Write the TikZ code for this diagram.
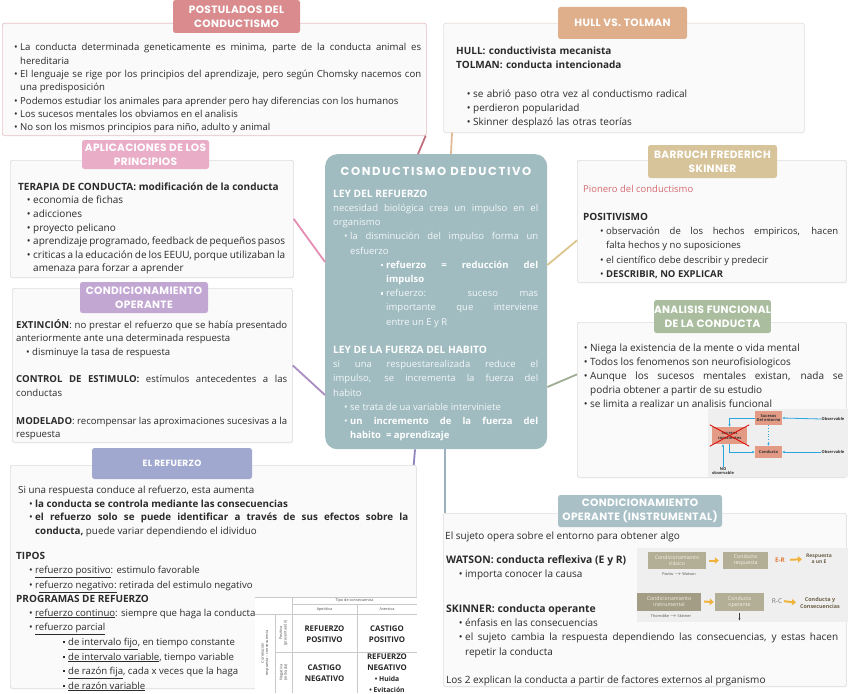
\documentclass[tikz,border=0pt]{standalone}
\usepackage{fontspec}
\setmainfont{Open Sans}
\newfontfamily\titlef{Poppins}[LetterSpace=3]
\newfontfamily\bigtitlef{Poppins}[LetterSpace=14]
\usetikzlibrary{shadows,arrows.meta}
\definecolor{textc}{HTML}{2B2B2B}
\definecolor{panelfill}{HTML}{FAFAFA}
\definecolor{panelline}{HTML}{DDDDDD}
\definecolor{postline}{HTML}{E5C3C5}
\definecolor{hullline}{HTML}{E9E1DA}
\definecolor{tpost}{HTML}{D98B8D}
\definecolor{thull}{HTML}{DFAE8B}
\definecolor{taplic}{HTML}{EAADC7}
\definecolor{tcondop}{HTML}{C3A7D3}
\definecolor{tbarr}{HTML}{D8C49B}
\definecolor{tanal}{HTML}{AABE9F}
\definecolor{trefz}{HTML}{A1A8CF}
\definecolor{tinst}{HTML}{A8C0C6}
\definecolor{central}{HTML}{A0BCC1}
\definecolor{ctext}{HTML}{F3F7F8}
\definecolor{cpost}{HTML}{C0707E}
\definecolor{chull}{HTML}{E2B995}
\definecolor{caplic}{HTML}{E58DB3}
\definecolor{ccondop}{HTML}{A98DC2}
\definecolor{cbarr}{HTML}{DCC48E}
\definecolor{canal}{HTML}{9FAE93}
\definecolor{crefz}{HTML}{8C86BA}
\definecolor{cinst}{HTML}{9AB1C0}
\definecolor{pion}{HTML}{D46B72}
\definecolor{diagbg}{HTML}{EFEFEF}
\definecolor{salmon}{HTML}{E39B86}
\definecolor{arrowblue}{HTML}{2AA5DE}
\definecolor{khaki}{HTML}{B3AE96}
\definecolor{khakid}{HTML}{A39D85}
\definecolor{cream}{HTML}{F7F3E6}
\definecolor{yarr}{HTML}{F0B43C}
\definecolor{orng}{HTML}{E07B39}
\definecolor{dbrown}{HTML}{6E6048}
\definecolor{gridc}{HTML}{C9C9C9}
\newcommand\fsz[2]{\fontsize{#1}{#2}\selectfont}
\newcommand\chead{\bfseries\fsz{10.2}{14.2}\color{white}}
\newcommand\li[1]{\par\noindent\hangindent=#1\relax\hangafter=1\makebox[#1][r]{\strut\textbullet\hspace{2.5pt}}\ignorespaces}
\newcommand\lii[1]{\par\noindent\hangindent=#1\relax\hangafter=1\makebox[#1][r]{\strut\raisebox{1.8pt}{\rule{2.6pt}{2.6pt}}\hspace{3pt}}\ignorespaces}
\hyphenpenalty=10000
\exhyphenpenalty=10000
\tolerance=9999
\emergencystretch=20pt
\begin{document}
\begin{tikzpicture}[x=1pt,y=-1pt,
  panel/.style={draw=#1, fill=panelfill, line width=0.7pt, rounded corners=2pt, inner sep=0pt, anchor=north west,
    drop shadow={opacity=0.10, shadow xshift=0.6pt, shadow yshift=-0.9pt}},
  tab/.style={fill=#1, rounded corners=2.5pt, text=white, font=\titlef\bfseries\fsz{10.6}{14}, align=center, inner sep=0pt},
  conn/.style={line width=1.8pt, draw=#1},
  txt/.style={anchor=north west, inner sep=0pt, align=justify, text=textc},
  ctxt/.style={anchor=north west, inner sep=0pt, align=justify, text=ctext},
  dbox/.style={fill=salmon, inner sep=0pt, align=center, font=\bfseries\fsz{4}{4.6}, text=black!80},
  dlab/.style={inner sep=0pt, align=center, font=\bfseries\fsz{4}{4.6}, text=black!80},
  barrow/.style={draw=arrowblue, line width=0.8pt, -{Latex[length=2.5pt,width=2.5pt]}},
  kbox/.style={fill=khaki, inner sep=0pt, align=center, font=\fsz{5.2}{6.2}, text=cream},
  tiny/.style={inner sep=0pt, align=center, font=\fsz{3.8}{4.4}, text=black!70},
  yarrow/.style={draw=yarr, line width=2pt, -{Triangle[length=4pt,width=6.5pt]}},
  cell/.style={inner sep=0pt, align=center, font=\bfseries\fsz{7.8}{11.5}, text=black!85},
  gtxt/.style={inner sep=0pt, align=center, font=\fsz{3.8}{4.4}, text=black!70}
]
\useasboundingbox (0,0) rectangle (848,693);
\fill[white] (0,0) rectangle (848,693);

% ---------- panels ----------
\node[panel=postline, minimum width=424, minimum height=112] (post) at (2,23) {};
\node[panel=hullline, minimum width=361, minimum height=109] (hull) at (443,23) {};
\node[panel=panelline, minimum width=283, minimum height=117] (aplic) at (10,160) {};
\node[panel=panelline, minimum width=280, minimum height=154] (condop) at (12,288) {};
\node[panel=panelline, minimum width=269, minimum height=122] (barr) at (577,160) {};
\node[panel=panelline, minimum width=269, minimum height=155] (anal) at (577,322) {};
\node[panel=panelline, minimum width=406, minimum height=223] (refz) at (10,465) {};
\node[panel=panelline, minimum width=403, minimum height=173] (inst) at (443,513) {};
\node[fill=central, rounded corners=12pt, minimum width=222, minimum height=295, inner sep=0pt, anchor=north west] (cen) at (325,154) {};

% ---------- connectors ----------
\draw[conn=cpost] ([xshift=-1pt]post.south east) -- ([xshift=93pt]cen.north west);
\draw[conn=chull] ([xshift=9pt]hull.south west) -- ([xshift=126pt]cen.north west);
\draw[conn=caplic] (aplic.east) -- ([yshift=-108pt]cen.north west);
\draw[conn=ccondop] (condop.east) -- ([yshift=-241pt]cen.north west);
\draw[conn=cbarr] ([yshift=-111pt]cen.north east) -- ([yshift=-19pt]barr.west);
\draw[conn=canal] ([yshift=-233pt]cen.north east) -- ([yshift=25.5pt]anal.west);
\draw[conn=crefz] ([xshift=90pt]cen.south west) -- ([xshift=-3pt]refz.north east);
\draw[conn=cinst] ([xshift=120pt]cen.south west) -- ([xshift=2pt]inst.north west);

% ---------- tabs ----------
\node[tab=tpost, minimum width=127, minimum height=33] (tpostn) at (236.5,16.5) {POSTULADOS DEL\\CONDUCTISMO};
\node[tab=thull, minimum width=129, minimum height=32] (thulln) at (622.5,23) {HULL VS. TOLMAN};
\node[tab=taplic, minimum width=127, minimum height=29] (taplicn) at (145.5,154.5) {APLICACIONES DE LOS\\PRINCIPIOS};
\node[tab=tcondop, minimum width=128, minimum height=31] (tcondopn) at (144,297.5) {CONDICIONAMIENTO\\OPERANTE};
\node[tab=tbarr, minimum width=129, minimum height=33] (tbarrn) at (712.5,161.5) {BARRUCH FREDERICH\\SKINNER};
\node[tab=tanal, minimum width=115, minimum height=33] (tanaln) at (712.5,316.5) {ANALISIS FUNCIONAL\\DE LA CONDUCTA};
\node[tab=trefz, minimum width=160, minimum height=31, font=\titlef\bfseries\fsz{9}{11}] (trefzn) at (172,463.5) {EL REFUERZO};
\node[tab=tinst, minimum width=164, minimum height=32] (tinstn) at (640,511) {CONDICIONAMIENTO\\OPERANTE (INSTRUMENTAL)};

% ---------- postulados ----------
\node[txt, text width=408pt, font=\fsz{9.6}{13.33}] (postT) at (13,37.2) {%
\li{7pt}La conducta determinada geneticamente es minima, parte de la conducta animal es\linebreak hereditaria
\li{7pt}El lenguaje se rige por los principios del aprendizaje, pero según Chomsky nacemos con\linebreak una predisposición
\li{7pt}Podemos estudiar los animales para aprender pero hay diferencias con los humanos
\li{7pt}Los sucesos mentales los obviamos en el analisis
\li{7pt}No son los mismos principios para niño, adulto y animal\par};

% ---------- hull ----------
\node[txt, align=left, text width=330pt, font=\fsz{10}{14.3}] (hullT) at (456,44) {%
\strut\textbf{HULL: conductivista mecanista}\par
\textbf{TOLMAN: conducta intencionada}\par\vspace{14.3pt}
\li{17pt}se abrió paso otra vez al conductismo radical
\li{17pt}perdieron popularidad
\li{17pt}Skinner desplazó las otras teorías\par};

% ---------- aplicaciones ----------
\node[txt, text width=267pt, font=\fsz{10}{13.6}] (aplicT) at (18,180.5) {%
\strut\textbf{TERAPIA DE CONDUCTA: modificación de la conducta}
\li{15pt}economia de fichas
\li{15pt}adicciones
\li{15pt}proyecto pelicano
\li{15pt}aprendizaje programado, feedback de pequeños pasos
\li{15pt}criticas a la educación de los EEUU, porque utilizaban la\linebreak amenaza para forzar a aprender\par};

% ---------- condicionamiento operante ----------
\node[txt, text width=271pt, font=\fsz{9.6}{13.7}] (condopT) at (16,318.4) {%
\strut\textbf{EXTINCIÓN}: no prestar el refuerzo que se había presentado\linebreak anteriormente ante una determinada respuesta
\li{16pt}disminuye la tasa de respuesta\par\vspace{13.7pt}
\noindent\textbf{CONTROL DE ESTIMULO:} estímulos antecedentes a las\linebreak conductas\par\vspace{13.7pt}
\noindent\textbf{MODELADO}: recompensar las aproximaciones sucesivas a la\linebreak respuesta\par};

% ---------- central ----------
\node[font=\bigtitlef\bfseries\fsz{11.6}{13}, text=white, anchor=base, inner sep=0pt] (cenT) at (436,175) {CONDUCTISMO DEDUCTIVO};
\node[ctxt, text width=205pt, font=\fsz{9.5}{14.2}] (cenB) at (333,187.1) {%
\strut{\chead LEY DEL REFUERZO}\par
\noindent necesidad biológica crea un impulso en el\linebreak organismo
\li{17pt}la disminución del impulso forma un\linebreak esfuerzo
\lii{53pt}\textbf{\color{white}refuerzo = reducción del\linebreak impulso}
\lii{53pt}refuerzo: suceso mas\linebreak importante que interviene\linebreak entre un E y R\par\vspace{14.2pt}
\noindent{\chead LEY DE LA FUERZA DEL HABITO}\par
\noindent si una respuestarealizada reduce el\linebreak impulso, se incrementa la fuerza del\linebreak habito
\li{17pt}se trata de ua variable interviniete
\li{17pt}\textbf{\color{white}un incremento de la fuerza del\linebreak habito \ = aprendizaje}\par};

% ---------- barruch ----------
\node[txt, text width=255pt, font=\fsz{9.5}{14.2}] (barrT) at (583,182) {%
\strut\textcolor{pion}{Pionero del conductismo}\par\vspace{14.2pt}
\noindent\textbf{\fsz{10}{14.2}POSITIVISMO}
\li{23pt}observación de los hechos empiricos, hacen\linebreak falta hechos y no suposiciones
\li{23pt}el científico debe describir y predecir
\li{23pt}\textbf{DESCRIBIR, NO EXPLICAR}\par};

% ---------- analisis ----------
\node[txt, text width=260pt, font=\fsz{10}{14.1}] (analT) at (583,337.1) {%
\li{7pt}Niega la existencia de la mente o vida mental
\li{7pt}Todos los fenomenos son neurofisiologicos
\li{7pt}Aunque los sucesos mentales existan, nada se\linebreak podria obtener a partir de su estudio
\li{7pt}se limita a realizar un analisis funcional\par};

\fill[diagbg] (708,409) rectangle (848,477);
\node[dbox, minimum width=27, minimum height=14] (se) at (768.5,418) {Sucesos\\Del entorno};
\node[dbox, minimum width=35, minimum height=17] (sc) at (729.5,435.5) {Sucesos\\conscientes};
\node[dbox, minimum width=27, minimum height=12] (cd) at (768.5,452) {Conducta};
\draw[red!85!black, line width=0.8pt] ([shift={(-2pt,2pt)}]sc.north west) -- ([shift={(2pt,-2pt)}]sc.south east);
\draw[red!85!black, line width=0.8pt] ([shift={(2pt,2pt)}]sc.north east) -- ([shift={(-2pt,-2pt)}]sc.south west);
\node[dlab] (o1) at (833,419) {Observable};
\node[dlab] (o2) at (833,452) {Observable};
\node[dlab] (no) at (723,471) {NO\\observable};
\draw[barrow] (o1.west) -- (se.east);
\draw[barrow] (o2.west) -- (cd.east);
\draw[barrow] (se.west) -| (sc.north);
\draw[barrow] (sc.south) |- (cd.west);
\draw[barrow] (no.north) -- (no.north |- sc.south);
\draw[barrow, dotted] (se.south) -- (cd.north);

% ---------- el refuerzo ----------
\node[txt, text width=390pt, font=\fsz{9.8}{13.9}] (refzA) at (18,483.2) {%
\strut Si una respuesta conduce al refuerzo, esta aumenta
\li{17pt}\textbf{la conducta se controla mediante las consecuencias}
\li{17pt}\textbf{el refuerzo solo se puede identificar a través de sus efectos sobre la\linebreak conducta,} puede variar dependiendo el idividuo\par};
\node[txt, text width=392pt, font=\fsz{9.6}{13.9}] (refzB) at (16,549.5) {%
\strut\textbf{\fsz{10}{13.9}TIPOS}
\li{19pt}\underline{refuerzo positivo}: estimulo favorable
\li{19pt}r\underline{efuerzo negativo:} retirada del estimulo negativo\par
\noindent\textbf{\fsz{10}{13.9}PROGRAMAS DE REFUERZO}
\li{19pt}\underline{refuerzo continuo}: siempre que haga la conducta
\li{19pt}\underline{refuerzo parcial}
\lii{52pt}\underline{de intervalo fijo}, en tiempo constante
\lii{52pt}\underline{de intervalo variable}, tiempo variable
\lii{52pt}\underline{de razón fija}, cada x veces que la haga
\lii{52pt}\underline{de razón variable}\par};

% table
\fill[white] (255,597) rectangle (417,693);
\draw[gridc, line width=0.5pt] (255,597) -- (417,597);
\draw[gridc, line width=0.5pt] (292,604.5) -- (417,604.5);
\draw[gridc, line width=0.5pt] (255,614) -- (417,614);
\draw[gridc, line width=0.5pt] (275,652) -- (417,652);
\draw[gridc, line width=0.5pt] (275,614) -- (275,693);
\draw[gridc, line width=0.5pt] (292,597) -- (292,693);
\draw[gridc, line width=0.5pt] (357,604.5) -- (357,693);
\node[gtxt] (tipo) at (354.5,600.8) {Tipo de consecuencia};
\node[gtxt] (apet) at (324.5,609.4) {Apetitiva};
\node[gtxt] (aver) at (387,609.4) {Aversiva};
\node[gtxt, rotate=90] (corr) at (265,653) {Correlación\\respuesta -- consecuencia};
\node[gtxt, rotate=90] (posi) at (283.5,633) {Positiva\\(presentación)};
\node[gtxt, rotate=90] (nega) at (283.5,672.5) {Negativa\\(retirada)};
\node[cell] (rp) at (324.5,634) {REFUERZO\\POSITIVO};
\node[cell] (cp) at (387,634) {CASTIGO\\POSITIVO};
\node[cell] (cn) at (324.5,673) {CASTIGO\\NEGATIVO};
\node[cell, font=\bfseries\fsz{7.8}{10.8}] (rn) at (387,673) {REFUERZO\\NEGATIVO\\{\fsz{6.8}{9.5}\textbullet\ Huida}\\{\fsz{6.8}{9.5}\textbullet\ Evitación}};

% ---------- instrumental ----------
\node[anchor=base west, inner sep=0pt, text=textc, font=\fsz{10}{14.3}] (instA) at (445,539) {El sujeto opera sobre el entorno para obtener algo};
\node[txt, text width=392pt, font=\fsz{10}{13.6}] (instB) at (446,554) {%
\strut\textbf{\fsz{10.4}{13.6}WATSON: conducta reflexiva (E y R)}
\li{19pt}importa conocer la causa\par};
\node[txt, text width=392pt, font=\fsz{10}{14.3}] (instC) at (446,602) {%
\strut\textbf{\fsz{10.4}{14.3}SKINNER: conducta operante}
\li{19pt}énfasis en las consecuencias
\li{19pt}el sujeto cambia la respuesta dependiendo las consecuencias, y estas hacen\linebreak repetir la conducta\par};
\node[anchor=base west, inner sep=0pt, text=textc, font=\fsz{10}{14.3}] (instD) at (446,683) {Los 2 explican la conducta a partir de factores externos al prganismo};

\fill[diagbg] (637,548) rectangle (848,622);
\node[kbox, minimum width=58, minimum height=17] (cc) at (677,560.5) {Condicionamiento\\clásico};
\node[tiny] (pw) at (679,574) {Pavlov $\to$ Watson};
\node[kbox, minimum width=45, minimum height=17] (cr) at (745.5,560.5) {Conducta\\respuesta};
\draw[yarrow, shorten <=3pt, shorten >=4pt] (cc.east) -- (cr.west);
\node[inner sep=0pt, font=\bfseries\fsz{6.4}{7}, text=orng] (er) at (780,560) {E-R};
\node[inner sep=0pt, align=center, font=\bfseries\fsz{5}{5.8}, text=dbrown] (re) at (819,559) {Respuesta\\a un E};
\draw[yarrow, shorten <=5pt, shorten >=4pt] (er.east) -- (re.west);
\node[kbox, fill=khakid, minimum width=64, minimum height=18] (ci) at (669,601.5) {Condicionamiento\\instrumental};
\node[tiny] (ts) at (671,616) {Thorndike $\to$ Skinner};
\node[kbox, minimum width=49, minimum height=18] (co) at (739.5,602) {Conducta\\operante};
\draw[yarrow, shorten <=3pt, shorten >=1pt] (ci.east) -- (co.west);
\coordinate (codown) at (739.5,620.5);
\draw[black!75, line width=0.6pt, -{Latex[length=2.2pt,width=2.2pt]}] ([yshift=-2pt]co.south) -- (codown);
\node[inner sep=0pt, font=\fsz{6.6}{7}, text=black!55] (rc) at (777,601) {R-C};
\node[inner sep=0pt, align=center, font=\bfseries\fsz{5.4}{6.6}, text=dbrown] (cyc) at (820,603) {Conducta y\\Consecuencias};
\draw[yarrow, shorten <=1.5pt, shorten >=4pt] (rc.east) -- (cyc.west);
\end{tikzpicture}
\end{document}
